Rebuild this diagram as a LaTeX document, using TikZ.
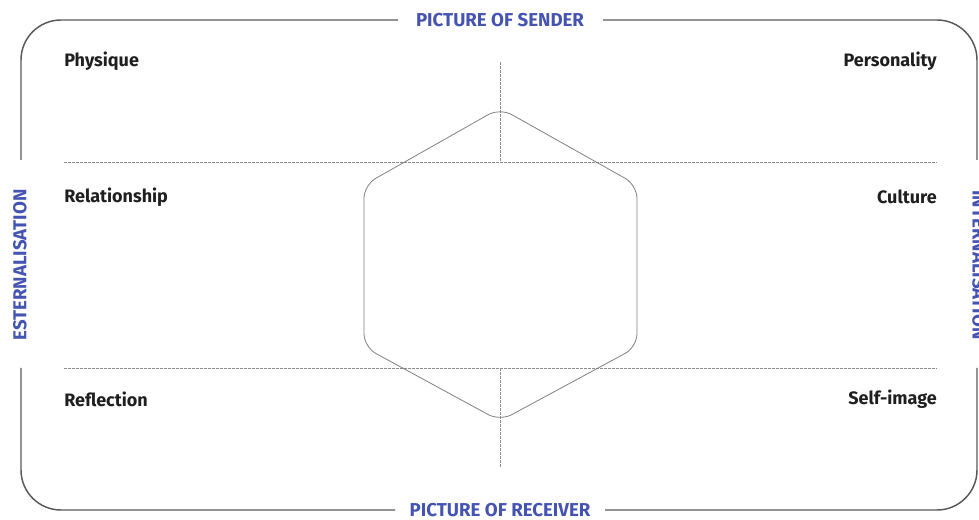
\documentclass[tikz,border=0pt]{standalone}
\usepackage{fontspec}
\setmainfont{Fira Sans}
\begin{document}
\begin{tikzpicture}[x=0.75pt,y=-0.75pt,
  frame/.style={draw=black!65,line width=1.1pt,rounded corners=30pt},
  guide/.style={draw=black!45,line width=0.45pt,dash pattern=on 2pt off 1pt},
  hexa/.style={draw=black!50,line width=0.6pt,rounded corners=10pt},
  item/.style={font=\fontsize{13.5pt}{15pt}\selectfont\bfseries,text=black!88,inner sep=0pt},
  axis/.style={font=\fontsize{14pt}{16pt}\selectfont\bfseries,text={rgb,255:red,68;green,84;blue,176},inner sep=0pt}]
\useasboundingbox (0,0) rectangle (979,520);
% frame
\draw[frame] (398,20) -- (21,20) -- (21,160);
\draw[frame] (21,368) -- (21,510) -- (395,510);
\draw[frame] (605,510) -- (977,510) -- (977,368);
\draw[frame] (977,160) -- (977,20) -- (603,20);
% guides
\draw[guide] (64,162) -- (937,162);
\draw[guide] (64,368) -- (937,368);
\draw[guide] (500,62) -- (500,162);
\draw[guide] (500,368) -- (500,468);
% hexagon
\draw[hexa] (500,108) -- (637,185) -- (637,347) -- (500,421) -- (364,347) -- (364,185) -- cycle;
% axis labels
\node[axis] (sender) at (500,20) {PICTURE OF SENDER};
\node[axis] (receiver) at (500,510) {PICTURE OF RECEIVER};
\node[axis,rotate=90] (ext) at (20,265) {ESTERNALISATION};
\node[axis,rotate=-90] (int) at (979,265) {INTERNALISATION};
% items
\node[item,anchor=west] (phys) at (64,61) {Physique};
\node[item,anchor=east] (pers) at (937,61) {Personality};
\node[item,anchor=west] (rel) at (64,197) {Relationship};
\node[item,anchor=east] (cult) at (937,197) {Culture};
\node[item,anchor=west] (refl) at (64,399) {Reflection};
\node[item,anchor=east] (self) at (937,399) {Self-image};
\end{tikzpicture}
\end{document}
